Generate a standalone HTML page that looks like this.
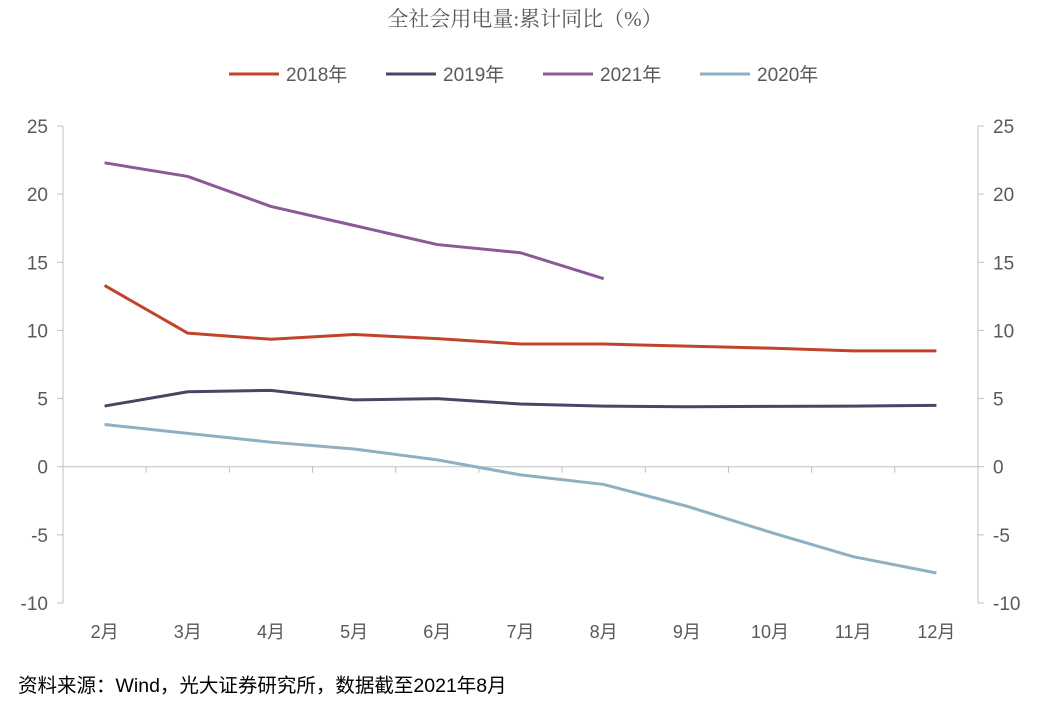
<!DOCTYPE html>
<html><head><meta charset="utf-8"><style>
body{margin:0;background:#fff;}
svg text{font-family:"Liberation Sans","Noto Sans CJK SC",sans-serif;}
</style></head><body>
<svg id="chart" width="1051" height="707">
<text x="525" y="26" text-anchor="middle" font-size="21" fill="#595959" style="font-family:'Liberation Serif','Noto Serif CJK SC',serif">全社会用电量:累计同比（%）</text>
<g id="legend"></g>
<g id="axes"></g>
<g id="series"></g>
<text x="18" y="692" font-size="19.5" fill="#000">资料来源：Wind，光大证券研究所，数据截至2021年8月</text>
</svg>
<script>
const categories=['2月','3月','4月','5月','6月','7月','8月','9月','10月','11月','12月'];
const s2018=[13.3,9.8,9.35,9.7,9.4,9.0,9.0,8.85,8.7,8.5,8.5];
const s2019=[4.45,5.5,5.6,4.9,5.0,4.6,4.45,4.4,4.43,4.45,4.5];
const s2021=[22.3,21.3,19.1,17.7,16.3,15.7,13.8];
const s2020=[3.1,2.45,1.8,1.3,0.5,-0.6,-1.3,-2.9,-4.8,-6.6,-7.8];
const yTicks=[25,20,15,10,5,0,-5,-10];
const seriesNames=['2018年','2019年','2021年','2020年'];
const seriesColors=['#c0432a','#4a4565','#8a5a94','#8fb0c3'];
const NS='http://www.w3.org/2000/svg';
const L=63,R=978,T=126,B=603,yMin=-10,yMax=25;
const bw=(R-L)/categories.length;
const x=i=>L+bw*(i+0.5);
const y=v=>T+(yMax-v)/(yMax-yMin)*(B-T);
function mk(tag,attrs,parent,text){const e=document.createElementNS(NS,tag);for(const k in attrs)e.setAttribute(k,attrs[k]);if(text!==undefined)e.textContent=text;parent.appendChild(e);return e;}
const axes=document.getElementById('axes');
let e=mk('line',{x1:L,x2:L,y1:T,y2:B,stroke:'#bfbfbf'},axes);


e=mk('line',{x1:R,x2:R,y1:T,y2:B,stroke:'#bfbfbf'},axes);


yTicks.forEach(v=>{
 [[L-6,L,L-15,'end'],[R,R+6,R+15,'start']].forEach((p,k)=>{
  let t=mk('line',{x1:p[0],x2:p[1],y1:y(v),y2:y(v),stroke:'#bfbfbf'},axes);
  
  
  t=mk('text',{x:p[2],y:y(v)+7,'text-anchor':p[3],'font-size':19,fill:'#595959'},axes,v);
  
  
 });
});
e=mk('line',{x1:L,x2:R,y1:y(0),y2:y(0),stroke:'#bfbfbf'},axes);


for(let i=0;i<=categories.length;i++){
 const t=mk('line',{x1:L+bw*i,x2:L+bw*i,y1:y(0),y2:y(0)+6,stroke:'#bfbfbf'},axes);
 
 
}
categories.forEach((c,i)=>{
 const t=mk('text',{x:x(i),y:638,'text-anchor':'middle','font-size':18,fill:'#595959'},axes,c);
 
 
});
const sg=document.getElementById('series');
[s2018,s2019,s2021,s2020].forEach((d,k)=>{
 const p=mk('polyline',{points:d.map((v,i)=>x(i)+','+y(v)).join(' '),fill:'none',stroke:seriesColors[k],'stroke-width':3,'stroke-linejoin':'round'},sg);
 
 
});
const lg=document.getElementById('legend');
const lx=[229,386,543,700];
seriesNames.forEach((n,k)=>{
 const g=mk('g',{},lg);
 
 
 mk('line',{x1:lx[k],x2:lx[k]+50,y1:74,y2:74,stroke:seriesColors[k],'stroke-width':3},g);
 mk('text',{x:lx[k]+57,y:81,'font-size':19,fill:'#595959'},g,n);
});
</script>
</body></html>
